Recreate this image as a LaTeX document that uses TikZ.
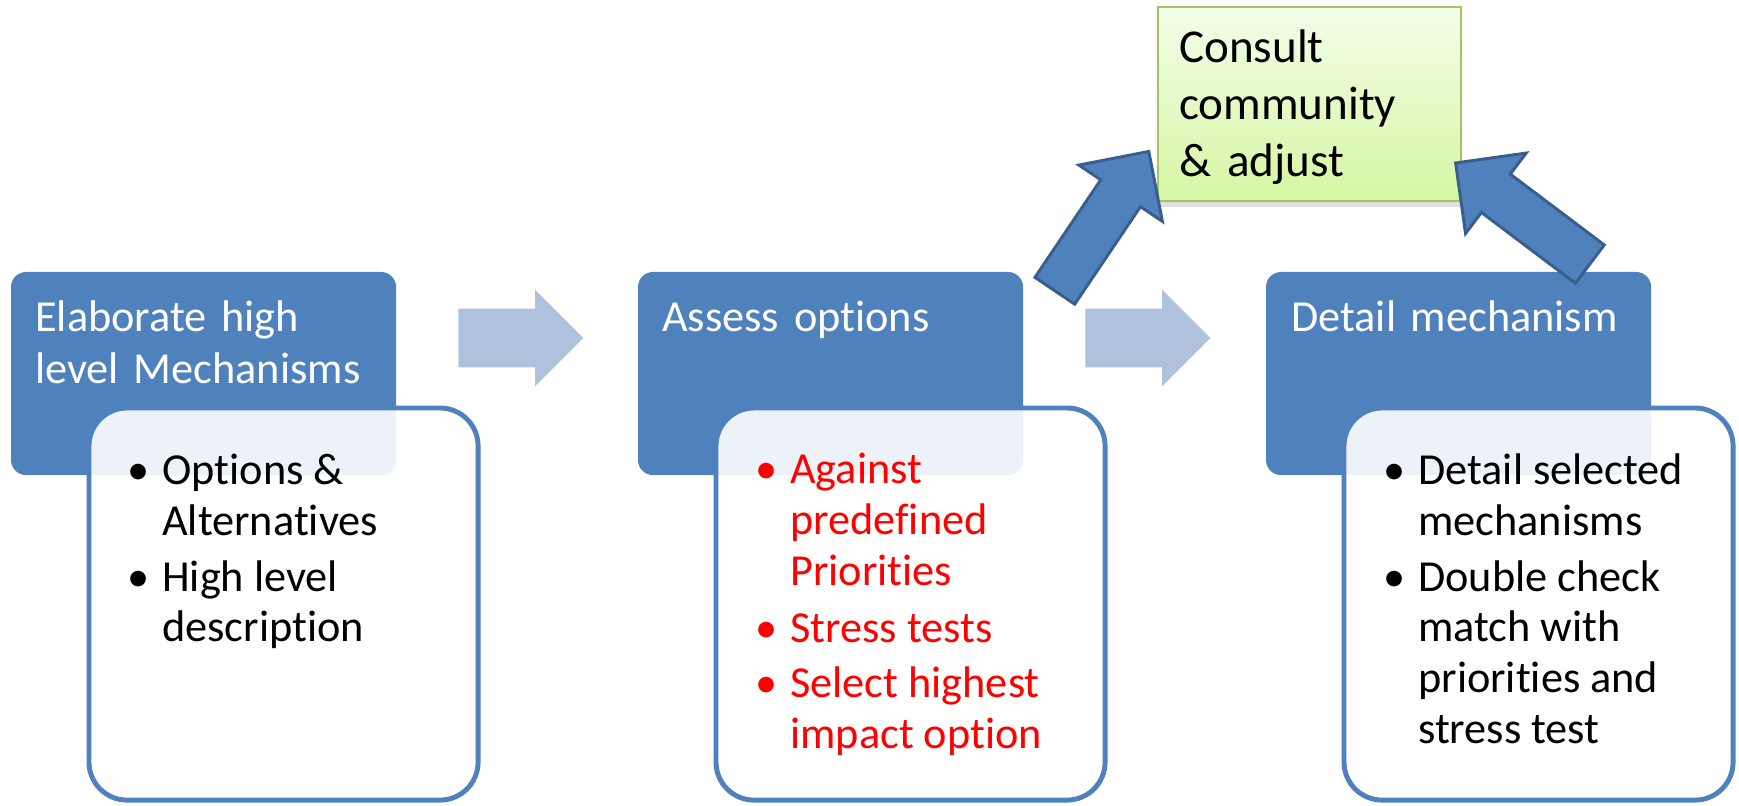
\documentclass[tikz,border=0pt]{standalone}
\usepackage{fontspec}
\setmainfont{Carlito}[Ligatures=NoCommon]
\usepackage{tikz}
\usetikzlibrary{calc}
\usetikzlibrary{positioning}
\usetikzlibrary{shapes}
\usetikzlibrary{shapes.arrows}
\usetikzlibrary{shadows}

\definecolor{stepblue}{HTML}{4F81BD}
\definecolor{stepedge}{HTML}{3A5E8C}
\definecolor{flowgray}{HTML}{B0C1DD}
\definecolor{greentop}{HTML}{F3FDE9}
\definecolor{greenbot}{HTML}{D6F6A4}
\definecolor{greenedge}{HTML}{A3C464}

\newcommand{\bul}{\makebox[0.875cm][l]{\textbullet}}

\begin{document}
\begin{tikzpicture}[x=0.025cm, y=-0.025cm,
	titlebox/.style={rectangle, rounded corners=0.375cm, fill=stepblue, minimum width=9.625cm, minimum height=5.075cm, inner sep=0, outer sep=0, anchor=north west},
	listbox/.style={rectangle, rounded corners=0.95cm, draw=stepblue, line width=3.5pt, fill=white, fill opacity=0.9, minimum width=9.725cm, minimum height=9.8cm, inner sep=0, outer sep=0, anchor=north west},
	titletext/.style={anchor=base west, inner sep=0, text width=9cm, align=left, text=white, font=\fontsize{31.5}{36.3}\selectfont},
	listtext/.style={anchor=base west, inner sep=0, font=\fontsize{31.5}{36.2}\selectfont},
	advicebox/.style={rectangle, top color=greentop, bottom color=greenbot, draw=greenedge, line width=1.3pt, minimum width=7.575cm, minimum height=4.85cm, inner sep=0, outer sep=0, anchor=north west, drop shadow={shadow xshift=0pt, shadow yshift=-0.15cm, opacity=0.25}},
	flow/.style={single arrow, fill=flowgray, inner xsep=0, inner ysep=0.725cm, minimum height=3.125cm, single arrow head extend=0.475cm, anchor=tail},
	backarrow/.style={single arrow, fill=stepblue, draw=stepedge, line width=2.1pt, inner xsep=0, inner ysep=0.5625cm, minimum height=4.2cm, single arrow head extend=0.66cm, anchor=tail}]
	\useasboundingbox (0,0) rectangle (1739,806);
	
	% title boxes
	\node[titlebox] (T1) at (11,272) {};
	\node[titlebox] (T2) at (638,272) {};
	\node[titlebox] (T3) at (1266,272) {};
	
	% flow arrows
	\node[flow] (F1) at (458,338) {};
	\node[flow] (F2) at (1085,338) {};
	
	% consult box and the arrows going back to it
	\node[advicebox] (C) at (1158,7) {};
	\node[anchor=base west, inner sep=0, text width=7cm, align=left, font=\fontsize{33.5}{40.5}\selectfont] (Ct) at ($(C.north west)+(21,56)$) {Consult\\community\\\& adjust};
	\node[backarrow, rotate=56] (U1) at (1054,292) {};
	\node[backarrow, rotate=143] (U2) at (1591,265) {};
	
	% list boxes
	\node[listbox] (D1) at (89,408) {};
	\node[listbox] (D2) at (716,408) {};
	\node[listbox] (D3) at (1344,408) {};
	
	% texts
	\node[titletext] (H1) at ($(T1.north west)+(24,60)$) {Elaborate high\\level Mechanisms};
	\node[titletext] (H2) at ($(T2.north west)+(24,60)$) {Assess options};
	\node[titletext] (H3) at ($(T3.north west)+(25,60)$) {Detail mechanism};
	
	\node[listtext] (L1) at ($(D1.north west)+(38,77)$) {\begin{tabular}[t]{@{}l@{}l@{}}
		\bul & Options \&\\
		& Alternatives\\[3pt]
		\bul & High level\\
		& description
	\end{tabular}};
	\node[listtext, text=red] (L2) at ($(D2.north west)+(39,76)$) {\begin{tabular}[t]{@{}l@{}l@{}}
		\bul & Against\\
		& predefined\\
		& Priorities\\[4pt]
		\bul & Stress tests\\[3pt]
		\bul & Select highest\\
		& impact option
	\end{tabular}};
	\node[listtext] (L3) at ($(D3.north west)+(39,77)$) {\begin{tabular}[t]{@{}l@{}l@{}}
		\bul & Detail selected\\
		& mechanisms\\[3pt]
		\bul & Double check\\
		& match with\\
		& priorities and\\
		& stress test
	\end{tabular}};
\end{tikzpicture}
\end{document}
